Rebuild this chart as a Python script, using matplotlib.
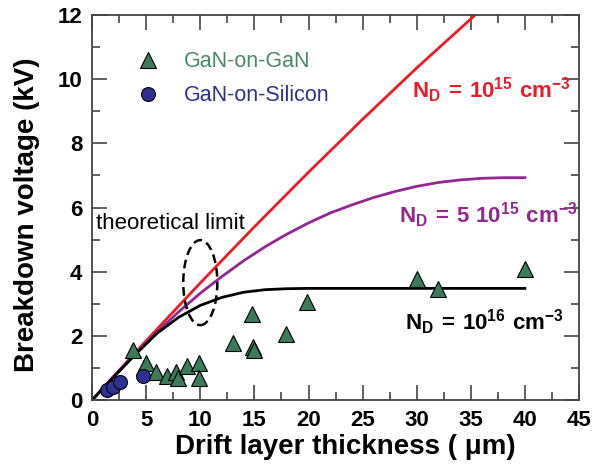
import matplotlib
matplotlib.use("Agg")
import matplotlib.pyplot as plt
from matplotlib.patches import Ellipse
from matplotlib.ticker import MultipleLocator

# --- Data ---
gan_gan_x = [3.8, 5.0, 5.9, 6.9, 7.8, 7.9, 8.8, 9.9, 9.9, 13.0, 14.8, 14.9, 15.0, 17.9, 19.9, 30.0, 32.0, 40.0]
gan_gan_y = [1.56, 1.15, 0.88, 0.75, 0.88, 0.68, 1.05, 1.14, 0.68, 1.77, 2.68, 1.64, 1.56, 2.06, 3.07, 3.76, 3.45, 4.08]

gan_si_x = [1.4, 1.9, 2.6, 4.7]
gan_si_y = [0.30, 0.42, 0.55, 0.75]

red_x = [0, 5, 10, 15, 20, 25, 30, 35.4]
red_y = [0, 1.85, 3.65, 5.4, 7.1, 8.75, 10.35, 12.0]

purple_x = [0, 2, 4, 6, 8, 10, 12, 14, 16, 18, 20, 22, 24, 26, 28, 30, 32, 34, 36, 38, 40]
purple_y = [0, 0.74, 1.45, 2.12, 2.75, 3.33, 3.85, 4.34, 4.78, 5.17, 5.52, 5.83, 6.08, 6.31,
            6.5, 6.66, 6.78, 6.86, 6.91, 6.93, 6.93]

black_x = [0, 2, 4, 6, 8, 10, 12, 14, 16, 18, 20, 40]
black_y = [0, 0.72, 1.42, 2.08, 2.58, 2.95, 3.2, 3.36, 3.44, 3.47, 3.48, 3.48]

RED = "#ed1c24"
PURPLE = "#92278f"
GREEN = "#3c7a5a"
BLUE = "#2e3192"

plt.rcParams["font.family"] = ["Liberation Sans", "DejaVu Sans"]
plt.rcParams["mathtext.fontset"] = "custom"
plt.rcParams["mathtext.rm"] = "Liberation Sans"
plt.rcParams["mathtext.bf"] = "Liberation Sans:bold"

fig = plt.figure(figsize=(6.14, 4.69), dpi=100)
ax = fig.add_axes([0.150, 0.147, 0.793, 0.821])

# --- Curves ---
ax.plot(red_x, red_y, color=RED, lw=2, zorder=2)
ax.plot(purple_x, purple_y, color=PURPLE, lw=2, zorder=2)
ax.plot(black_x, black_y, color="black", lw=2, zorder=2)

# --- Measured devices ---
ax.plot(gan_gan_x, gan_gan_y, ls="none", marker="^", ms=11, mfc=GREEN, mec="black",
        mew=0.8, label="GaN-on-GaN", zorder=3)
ax.plot(gan_si_x, gan_si_y, ls="none", marker="o", ms=10, mfc=BLUE, mec="black",
        mew=0.8, label="GaN-on-Silicon", zorder=3)

# --- Theoretical limit marker ---
ax.add_patch(Ellipse((10.0, 3.66), 3.15, 2.65, fill=False, ls=(0, (3.5, 2)), lw=1.8,
                     ec="black", zorder=4))
ax.text(0.4, 5.5, "theoretical limit", fontsize=16, va="center", ha="left")

# --- Doping annotations ---
ax.text(29.6, 9.67, r"$\mathbf{N_D\,=\,10^{15}\ cm^{-3}}$", color=RED, fontsize=16, va="center")
ax.text(28.4, 5.77, r"$\mathbf{N_D\,=\,5\ 10^{15}\ cm^{-3}}$", color=PURPLE, fontsize=16, va="center")
ax.text(28.9, 2.43, r"$\mathbf{N_D\,=\,10^{16}\ cm^{-3}}$", color="black", fontsize=16, va="center")

# --- Axes ---
ax.set_xlim(0, 45)
ax.set_ylim(0, 12)
ax.xaxis.set_major_locator(MultipleLocator(5))
ax.xaxis.set_minor_locator(MultipleLocator(2.5))
ax.yaxis.set_major_locator(MultipleLocator(2))
ax.yaxis.set_minor_locator(MultipleLocator(1))
ax.tick_params(which="both", direction="in", top=True, right=True, width=1.2, color="#444444")
ax.tick_params(which="major", length=11, labelsize=16, pad=7)
ax.tick_params(which="minor", length=6)
for lab in ax.get_xticklabels() + ax.get_yticklabels():
    lab.set_fontweight("bold")
for spine in ax.spines.values():
    spine.set_color("#444444")
    spine.set_linewidth(1.3)

ax.set_xlabel("Drift layer thickness ( μm)", fontsize=20, fontweight="bold")
ax.set_ylabel("Breakdown voltage (kV)", fontsize=20, fontweight="bold")
ax.xaxis.set_label_coords(0.52, -0.088)
ax.yaxis.set_label_coords(-0.107, 0.48)

# --- Legend ---
leg = ax.legend(loc="upper left", bbox_to_anchor=(0.092, 0.906), frameon=False, fontsize=15.5,
                numpoints=1, handlelength=1.0, handletextpad=1.2, labelspacing=0.6,
                borderpad=0, borderaxespad=0, labelcolor=["#4a8a68", BLUE])

fig.savefig("out.png", dpi=100)
